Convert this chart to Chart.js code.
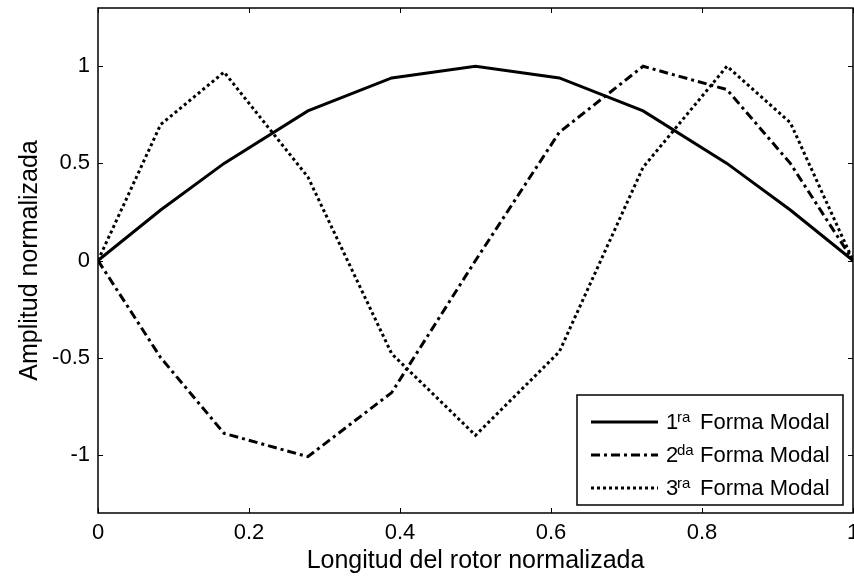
<!DOCTYPE html>
<html>
<head>
<meta charset="utf-8">
<script src="https://cdn.jsdelivr.net/npm/chart.js@4/dist/chart.umd.min.js"></script>
<style>
  html, body { margin: 0; padding: 0; background: #fff; }
  #wrap { width: 854px; height: 577px; position: relative; }
</style>
</head>
<body>
<div id="wrap"><canvas id="modos"></canvas></div>
<script>
// posiciones normalizadas a lo largo del rotor
const posiciones = [0, 0.083, 0.167, 0.278, 0.389, 0.5, 0.611, 0.722, 0.833, 0.917, 1];

// amplitudes normalizadas
const modo1 = [0, 0.26, 0.5, 0.77, 0.94, 1, 0.94, 0.77, 0.5, 0.26, 0];
const modo2 = [0, -0.5, -0.89, -1.01, -0.68, 0, 0.66, 1.0, 0.88, 0.5, 0];
const modo3 = [0, 0.7, 0.97, 0.43, -0.48, -0.9, -0.47, 0.48, 1.0, 0.71, 0];

const xTicks = [0, 0.2, 0.4, 0.6, 0.8, 1];
const yTicks = [-1, -0.5, 0, 0.5, 1];

const ordinales = ["1", "2", "3"];
const sufijos = ["ra", "da", "ra"];
const nombre = "Forma Modal";

const FONT = "'Liberation Sans', Arial, Helvetica, sans-serif";
const estilos = [[], [9, 4, 3, 4], [3, 3]];

const toPoints = (ys) => posiciones.map((x, i) => ({ x: x, y: ys[i] }));

// caja, marcas hacia dentro y leyenda estilo MATLAB
const matlabAxes = {
  id: "matlabAxes",
  afterDraw(chart) {
    const ctx = chart.ctx;
    const a = chart.chartArea;
    const xs = chart.scales.x;
    const ys = chart.scales.y;
    const tl = 5;

    ctx.save();
    ctx.strokeStyle = "#000";
    ctx.lineWidth = 1.5;
    ctx.setLineDash([]);
    ctx.strokeRect(a.left, a.top, a.right - a.left, a.bottom - a.top);

    ctx.lineWidth = 1;
    ctx.beginPath();
    xTicks.forEach((v) => {
      const px = Math.round(xs.getPixelForValue(v)) + 0.5;
      ctx.moveTo(px, a.bottom);
      ctx.lineTo(px, a.bottom - tl);
      ctx.moveTo(px, a.top);
      ctx.lineTo(px, a.top + tl);
    });
    yTicks.forEach((v) => {
      const py = Math.round(ys.getPixelForValue(v)) + 0.5;
      ctx.moveTo(a.left, py);
      ctx.lineTo(a.left + tl, py);
      ctx.moveTo(a.right, py);
      ctx.lineTo(a.right - tl, py);
    });
    ctx.stroke();

    // leyenda
    const bx = a.right - 276;
    const by = a.bottom - 118;
    const bw = 266;
    const bh = 110;
    ctx.fillStyle = "#fff";
    ctx.fillRect(bx, by, bw, bh);
    ctx.lineWidth = 1.5;
    ctx.strokeRect(bx, by, bw, bh);

    ordinales.forEach((num, i) => {
      const cy = by + 27 + i * 33;
      ctx.lineWidth = 3;
      ctx.lineCap = "butt";
      ctx.setLineDash(estilos[i]);
      ctx.beginPath();
      ctx.moveTo(bx + 14, cy);
      ctx.lineTo(bx + 81, cy);
      ctx.stroke();
      ctx.setLineDash([]);

      ctx.fillStyle = "#000";
      ctx.textBaseline = "alphabetic";
      ctx.textAlign = "left";
      const base = cy + 7;
      ctx.font = "22px " + FONT;
      ctx.fillText(num, bx + 89, base);
      ctx.font = "15px " + FONT;
      ctx.fillText(sufijos[i], bx + 100, base - 7);
      ctx.font = "22px " + FONT;
      ctx.fillText(nombre, bx + 123, base);
    });
    ctx.restore();
  },
};

const serie = (ys, dash) => ({
  data: toPoints(ys),
  borderColor: "#000",
  backgroundColor: "#000",
  borderWidth: 3,
  borderDash: dash,
  borderCapStyle: "butt",
  pointRadius: 0,
  tension: 0,
  fill: false,
});

new Chart(document.getElementById("modos"), {
  type: "line",
  data: {
    datasets: [
      serie(modo1, estilos[0]),
      serie(modo2, estilos[1]),
      serie(modo3, estilos[2]),
    ],
  },
  options: {
    responsive: true,
    maintainAspectRatio: false,
    animation: false,
    layout: { padding: { top: 8, right: 1, left: 0, bottom: 0 } },
    plugins: {
      legend: { display: false },
      tooltip: { enabled: false },
    },
    scales: {
      x: {
        type: "linear",
        min: 0,
        max: 1,
        grid: { display: false, drawTicks: false },
        border: { display: false },
        afterBuildTicks: (s) => { s.ticks = xTicks.map((v) => ({ value: v })); },
        afterFit: (s) => { s.height = 64; s.paddingLeft = 0; s.paddingRight = 0; },
        ticks: {
          color: "#000",
          padding: 7,
          autoSkip: false,
          maxRotation: 0,
          font: { family: FONT, size: 22 },
          callback: (v) => String(v),
        },
        title: {
          display: true,
          text: "Longitud del rotor normalizada",
          color: "#000",
          font: { family: FONT, size: 25 },
          padding: { top: 0, bottom: 1 },
        },
      },
      y: {
        type: "linear",
        min: -1.3,
        max: 1.3,
        grid: { display: false, drawTicks: false },
        border: { display: false },
        afterBuildTicks: (s) => { s.ticks = yTicks.map((v) => ({ value: v })); },
        afterFit: (s) => { s.width = 98; s.paddingTop = 0; s.paddingBottom = 0; },
        ticks: {
          color: "#000",
          padding: 8,
          autoSkip: false,
          font: { family: FONT, size: 22 },
          callback: (v) => String(v),
        },
        title: {
          display: true,
          text: "Amplitud normalizada",
          color: "#000",
          font: { family: FONT, size: 25 },
          padding: { top: 15, bottom: 0 },
        },
      },
    },
  },
  plugins: [matlabAxes],
});
</script>
</body>
</html>
